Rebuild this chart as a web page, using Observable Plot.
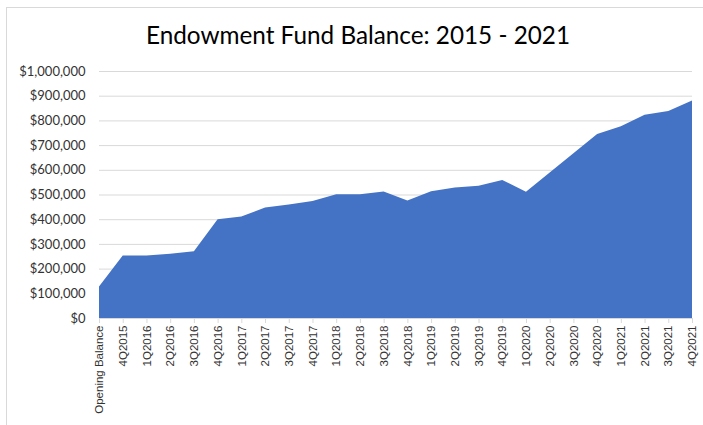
<!DOCTYPE html>
<html>
<head>
<meta charset="utf-8">
<script src="https://cdn.jsdelivr.net/npm/d3@7"></script>
<script src="https://cdn.jsdelivr.net/npm/@observablehq/plot@0.6"></script>
<style>
  html, body { margin: 0; padding: 0; background: #fff; overflow: hidden; }
  #wrap { position: relative; width: 703px; height: 425px; overflow: hidden; }
  #frame { position: absolute; left: 6px; top: 7px; width: 780px; height: 500px; border-left: 1px solid #d9d9d9; border-top: 1px solid #d9d9d9; box-sizing: border-box; }
  #title { position: absolute; left: 0; width: 716px; top: 20px; text-align: center; font-family: Lato, sans-serif; font-size: 24.3px; color: #000; white-space: nowrap; }
  #chart { position: absolute; left: 0; top: 0; }
</style>
</head>
<body>
<div id="wrap">
  <div id="frame"></div>
  <div id="title">Endowment Fund Balance: 2015 - 2021</div>
  <div id="chart"></div>
</div>
<script>
const quarters = ["Opening Balance", "4Q2015", "1Q2016", "2Q2016", "3Q2016", "4Q2016", "1Q2017", "2Q2017", "3Q2017", "4Q2017", "1Q2018", "2Q2018", "3Q2018", "4Q2018", "1Q2019", "2Q2019", "3Q2019", "4Q2019", "1Q2020", "2Q2020", "3Q2020", "4Q2020", "1Q2021", "2Q2021", "3Q2021", "4Q2021"];
const balances = [128000, 253000, 253000, 260000, 270000, 400000, 411000, 447000, 460000, 474000, 501000, 501000, 512000, 476000, 513000, 528000, 535000, 559000, 511000, 589000, 667000, 745000, 776000, 823000, 838000, 881000];
const yTicks = [0, 100000, 200000, 300000, 400000, 500000, 600000, 700000, 800000, 900000, 1000000];

const data = quarters.map((q, i) => ({i, q, v: balances[i]}));
const xIdx = quarters.map((q, i) => i);

const chart = Plot.plot({
  width: 703,
  height: 425,
  marginLeft: 99,
  marginRight: 11,
  marginTop: 71,
  marginBottom: 107,
  style: {background: "transparent", overflow: "visible"},
  x: {type: "linear", domain: [0, quarters.length - 1]},
  y: {domain: [0, 1000000]},
  marks: [
    Plot.ruleY(yTicks, {stroke: "#d9d9d9", strokeWidth: 1}),
    Plot.areaY(data, {x: "i", y: "v", fill: "#4472C4"}),
    Plot.ruleY([0], {stroke: "#d9d9d9", strokeWidth: 1}),
    Plot.axisY({ticks: yTicks, tickFormat: d3.format("$,.0f"), tickSize: 0, tickPadding: 14, fontSize: 13, fontFamily: "Lato, sans-serif", fill: "#333", label: null}),
    Plot.axisX({ticks: xIdx, tickFormat: i => quarters[i], tickRotate: -90, tickSize: 5, tickPadding: 2, stroke: "#d9d9d9", fontSize: 11.5, fontFamily: "Liberation Sans, Arial, sans-serif", fill: "#333", label: null})
  ]
});
document.getElementById("chart").appendChild(chart);
</script>
</body>
</html>
